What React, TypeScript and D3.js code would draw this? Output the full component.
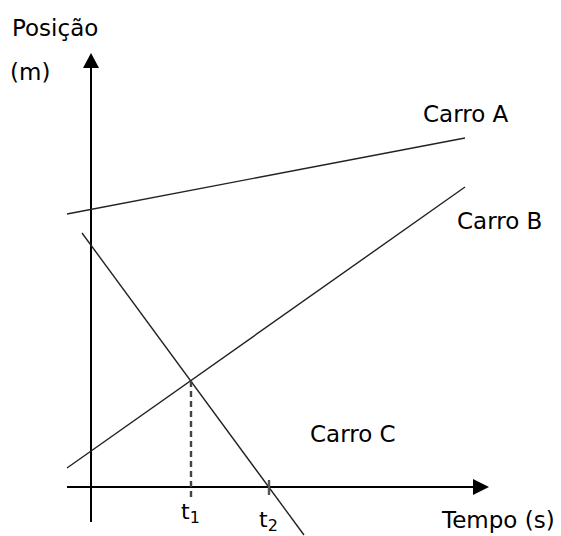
import * as d3 from 'd3'

// units: time (s) and position (m)
const carNames = ['Carro A', 'Carro B', 'Carro C']
const carTimes = [
  [-2.4, 37.4],
  [-2.4, 37.4],
  [-0.9, 21.3],
]
const carPositions = [
  [27.3, 34.9],
  [1.9, 30.0],
  [25.4, -4.8],
]
const tickTimes = [10, 17.8]
const tickNames = ['t', 't']
const tickSubs = ['1', '2']
const meetPosition = 10.6

const W = 561
const H = 536
const FONT = '"DejaVu Sans", Verdana, sans-serif'
const FS = 23

export default function App() {
  const x = d3.scaleLinear().domain([0, 40]).range([91, 491])
  const y = d3.scaleLinear().domain([0, 43.4]).range([487, 53])
  const line = d3.line<[number, number]>().x(d => x(d[0])).y(d => y(d[1]))

  const x0 = x(0)
  const y0 = y(0)
  const xEnd = x(39.8)
  const yTop = y(43.4)

  return (
    <svg width={W} height={H} style={{ position: 'fixed', left: 0, top: 0, background: '#fff' }} fontFamily={FONT}>
      {/* axes */}
      <line x1={x(-2.4)} x2={xEnd - 12} y1={y0} y2={y0} stroke="#000" strokeWidth={2} />
      <path d={`M${xEnd},${y0} L${xEnd - 16},${y0 - 8} L${xEnd - 16},${y0 + 8} Z`} fill="#000" />
      <line x1={x0} x2={x0} y1={y(-3.5)} y2={yTop + 12} stroke="#000" strokeWidth={2} />
      <path d={`M${x0},${yTop} L${x0 - 8},${yTop + 15} L${x0 + 8},${yTop + 15} Z`} fill="#000" />

      {/* car lines */}
      {carNames.map((name, i) => (
        <path
          key={name}
          d={line(carTimes[i].map((t, j) => [t, carPositions[i][j]] as [number, number])) || ''}
          fill="none"
          stroke="#222"
          strokeWidth={1.4}
        />
      ))}

      {/* t1 dashed drop, t2 tick */}
      <line x1={x(tickTimes[0])} x2={x(tickTimes[0])} y1={y(meetPosition)} y2={y(-1)}
        stroke="#444" strokeWidth={2.4} strokeDasharray="6,4" />
      <line x1={x(tickTimes[1])} x2={x(tickTimes[1])} y1={y(0.7)} y2={y(-0.8)} stroke="#555" strokeWidth={2.4} />

      {tickNames.map((n, i) => (
        <text key={i} x={x(tickTimes[i]) - 10} y={i === 0 ? 519 : 527} fontSize={22} fill="#000">
          {n}
          <tspan fontSize={16} dy={4}>{tickSubs[i]}</tspan>
        </text>
      ))}

      {/* labels */}
      <text x={423} y={122} fontSize={FS} fill="#000">{carNames[0]}</text>
      <text x={457} y={229} fontSize={FS} fill="#000">{carNames[1]}</text>
      <text x={310} y={442} fontSize={FS} fill="#000">{carNames[2]}</text>

      <text x={12} y={36} fontSize={FS} fill="#000">Posição</text>
      <text x={10} y={80} fontSize={FS} fill="#000">(m)</text>
      <text x={442} y={528} fontSize={FS} fill="#000">Tempo (s)</text>
    </svg>
  )
}
